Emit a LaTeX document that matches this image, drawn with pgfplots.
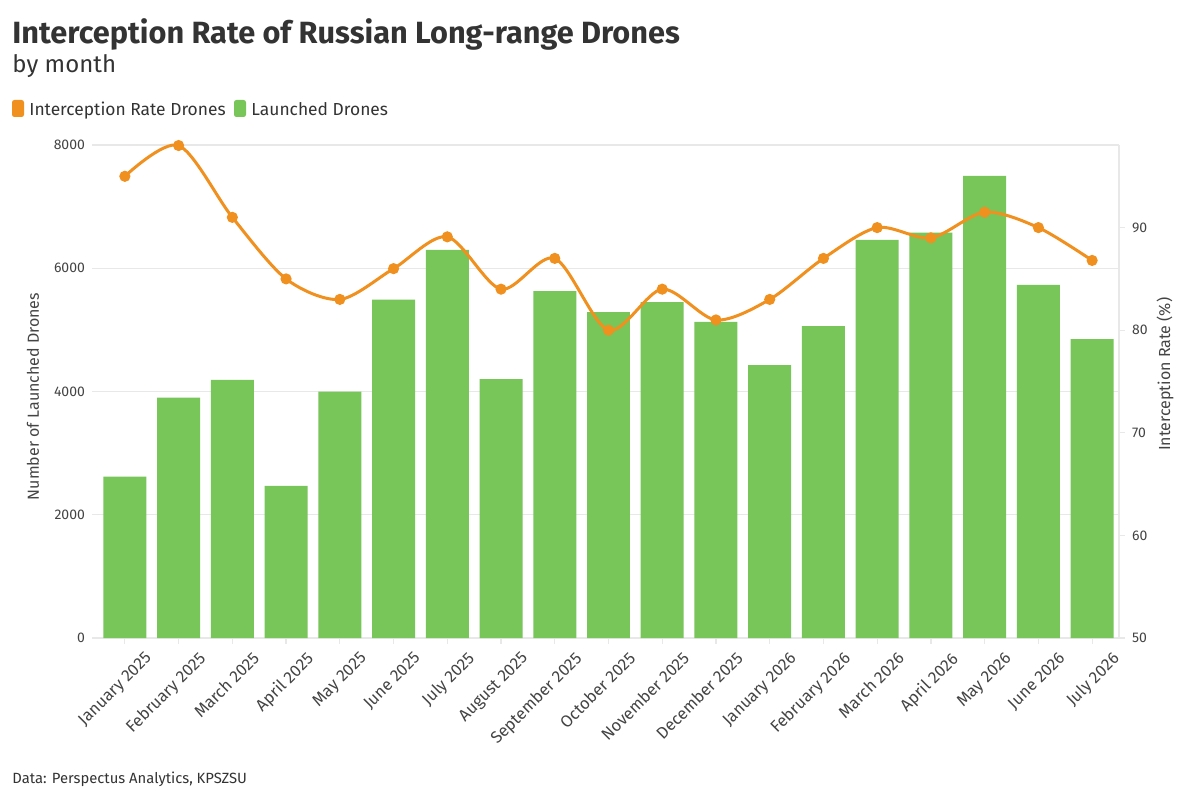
\documentclass[border=0pt]{standalone}
\usepackage{pgfplots}
\pgfplotsset{compat=1.18}
\usepackage{fontspec}
\setmainfont{Fira Sans}
\definecolor{barg}{HTML}{78C55A}
\definecolor{lineo}{HTML}{F0901E}
\definecolor{gridc}{HTML}{E8E8E8}
\definecolor{txt}{HTML}{333333}
\definecolor{tickc}{HTML}{444444}

\pgfplotstableread{
x drones rate
0 2620 95.0
1 3900 98.0
2 4190 91.0
3 2470 85.0
4 4000 83.0
5 5490 86.0
6 6300 89.1
7 4200 84.0
8 5630 87.0
9 5290 80.0
10 5450 84.0
11 5130 81.0
12 4430 83.0
13 5060 87.0
14 6460 90.0
15 6580 89.0
16 7500 91.5
17 5730 90.0
18 4850 86.8
}\datatable

\begin{document}
\begin{tikzpicture}[x=1pt,y=1pt]
\useasboundingbox (0,0) rectangle (600,400);
\node[anchor=base west, font=\fontsize{15.35}{18}\selectfont\bfseries, text=txt, inner sep=0] at (6,378) {Interception Rate of Russian Long-range Drones};
\node[anchor=base west, font=\fontsize{12}{14}\selectfont, text=txt, inner sep=0] at (6,363.5) {by month};
\fill[lineo, rounded corners=1.2pt] (6,341.5) rectangle (12,350);
\node[anchor=base west, font=\fontsize{8.7}{11}\selectfont, text=txt, inner sep=0] at (14.5,342) {Interception Rate Drones};
\fill[barg, rounded corners=1.2pt] (117,341.5) rectangle (123,350);
\node[anchor=base west, font=\fontsize{8.7}{11}\selectfont, text=txt, inner sep=0] at (125.5,342) {Launched Drones};
\node[anchor=base west, font=\fontsize{7.4}{9}\selectfont, text=txt, inner sep=0] at (6,8.5) {Data: Perspectus Analytics, KPSZSU};

\begin{axis}[
  at={(49pt,81pt)}, anchor=south west, scale only axis,
  width=510.5pt, height=246.5pt,
  xmin=-0.5, xmax=18.5, ymin=0, ymax=8000,
  axis x line*=bottom, axis y line*=left,
  axis line style={draw=none},
  ytick={0,2000,4000,6000,8000},
  ymajorgrids, grid style={gridc, line width=0.6pt},
  xtick={0,...,18},
  xticklabels={January 2025,February 2025,March 2025,April 2025,May 2025,June 2025,July 2025,August 2025,September 2025,October 2025,November 2025,December 2025,January 2026,February 2026,March 2026,April 2026,May 2026,June 2026,July 2026},
  xticklabel style={rotate=45, anchor=north east, font=\fontsize{8.3}{9}\selectfont, text=tickc, inner sep=0.5pt, xshift=5pt, yshift=-8.5pt},
  yticklabel style={font=\fontsize{7}{8}\selectfont, text=tickc},
  /pgf/number format/assume math mode=true,
  scaled y ticks=false,
  yticklabel={\pgfmathprintnumber[fixed,1000 sep={}]{\tick}},
  tick style={gridc, line width=0.6pt},
  major tick length=3pt, tick align=outside,
  ylabel={Number of Launched Drones},
  every axis y label/.style={at={(axis description cs:-0.0637,0.49)}, rotate=90, anchor=center, font=\fontsize{8}{10}\selectfont, text=tickc},
  clip=false,
]
\addplot[ybar, bar width=0.8, fill=barg, draw=none, bar shift=0pt] table[x=x, y=drones] {\datatable};
\end{axis}

\begin{axis}[
  at={(49pt,81pt)}, anchor=south west, scale only axis,
  width=510.5pt, height=246.5pt,
  xmin=-0.5, xmax=18.5, ymin=50, ymax=98.05,
  axis x line=none, axis y line*=right,
  axis line style={gridc, line width=0.6pt},
  ytick={50,60,70,80,90},
  yticklabel style={font=\fontsize{7}{8}\selectfont, text=tickc},
  /pgf/number format/assume math mode=true,
  tick style={gridc, line width=0.6pt},
  major tick length=3pt, tick align=outside,
  ylabel={Interception Rate (\%)},
  every axis y label/.style={at={(axis description cs:1.045,0.535)}, rotate=90, anchor=center, font=\fontsize{8}{10}\selectfont, text=tickc},
  clip=false,
]
\addplot[lineo, line width=1.5pt, smooth, mark=*, mark size=2pt, mark options={fill=lineo, draw=none}] table[x=x, y=rate] {\datatable};
\end{axis}
\end{tikzpicture}
\end{document}
